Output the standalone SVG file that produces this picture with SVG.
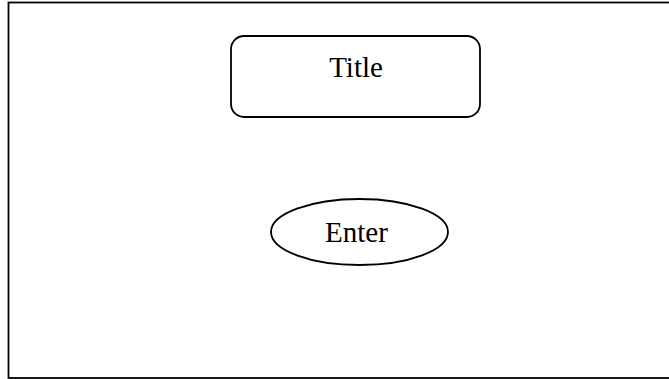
<svg xmlns="http://www.w3.org/2000/svg" width="669" height="379" viewBox="0 0 669 379">
<style>
.shape{fill:#fff;stroke:#000;stroke-width:1.8}
.lbl{font-family:"Liberation Serif","Times New Roman",serif;font-size:29px;fill:#000;text-anchor:middle}
</style>
<rect x="0" y="0" width="669" height="379" fill="#fff"/>
<g id="frame"><rect class="shape" x="8.5" y="2.5" width="662" height="375.5"/></g>
<g id="title"><rect class="shape" x="231" y="36" width="249" height="81" rx="13" ry="13"/><text class="lbl" x="356" y="77">Title</text></g>
<g id="enter"><ellipse class="shape" cx="359.5" cy="232" rx="88.5" ry="33"/><text class="lbl" x="356.5" y="242">Enter</text></g>
<g id="connectors"></g>
</svg>
